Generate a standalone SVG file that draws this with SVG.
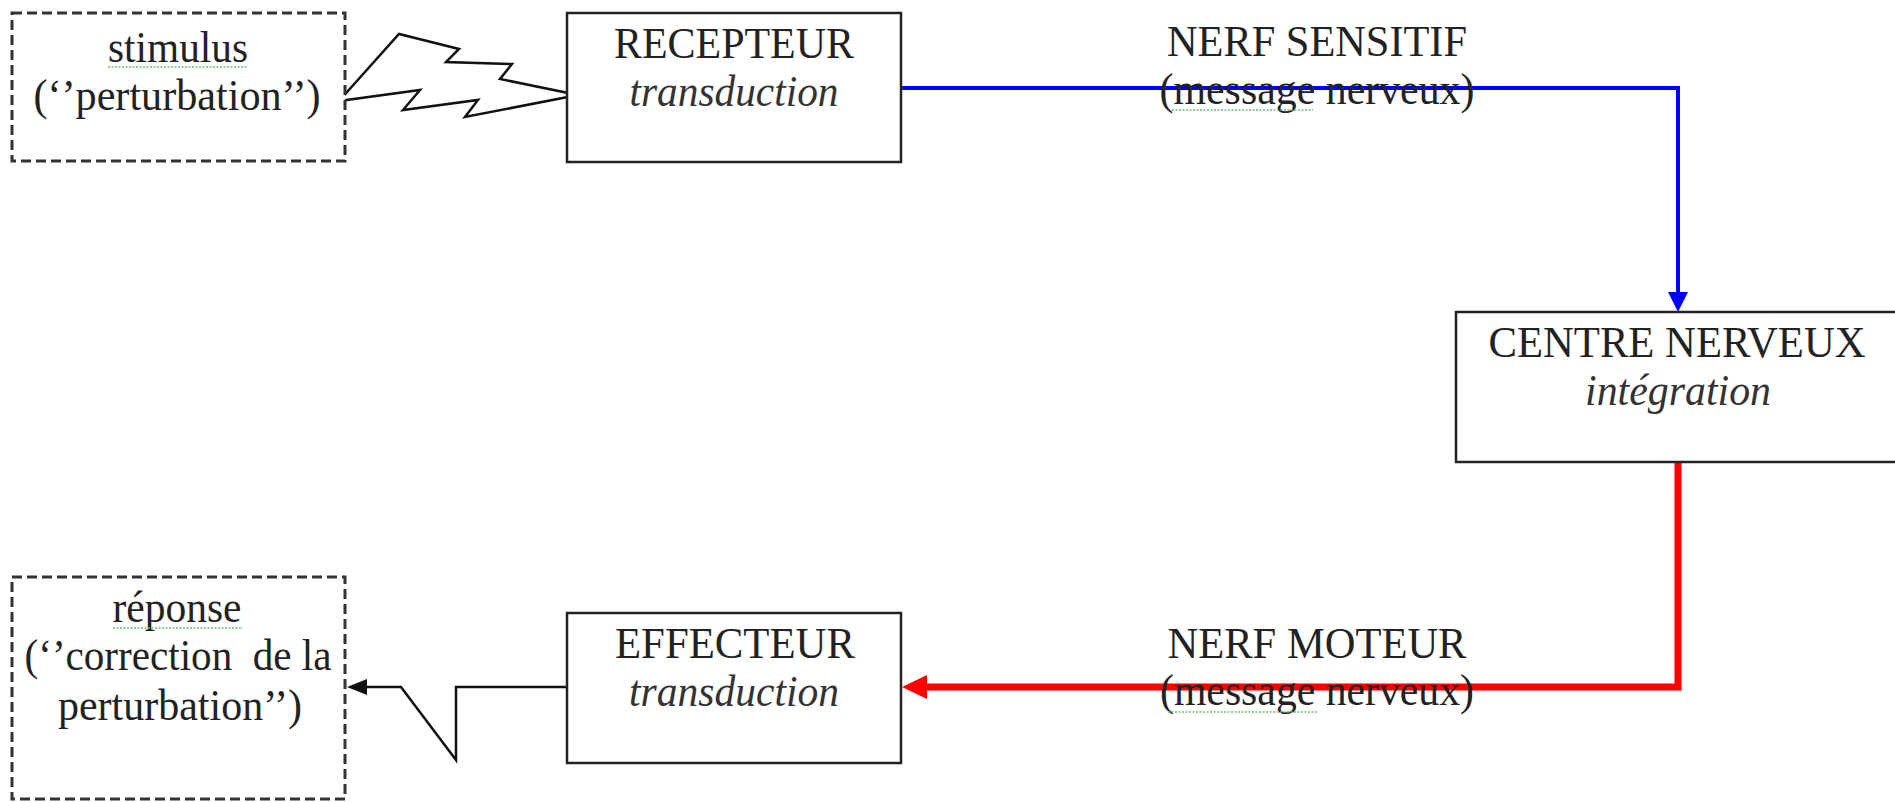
<svg xmlns="http://www.w3.org/2000/svg" width="1895" height="802" viewBox="0 0 1895 802">
<style>
text{font-family:"Liberation Serif","Times New Roman",serif;font-size:44px;fill:#222;text-anchor:middle}
.it{font-style:italic;fill:#333}
.box{fill:#fff;stroke:#222;stroke-width:2.5}
.dash{fill:#fff;stroke:#333;stroke-width:3;stroke-dasharray:10 5}
.sq{stroke:#6fbf6f;stroke-width:1.5;stroke-dasharray:2 1.5;fill:none}
</style>
<rect width="1895" height="802" fill="#fff"/>
<g id="connectors">
  <polygon id="bolt" points="339,101 399,34 459,49 446,62 512,64 500,79 578,95 465,117 478,100 403,110 420,90" fill="#fff" stroke="#111" stroke-width="2.5" stroke-linejoin="miter"/>
  <polyline points="901,88 1678,88 1678,294" fill="none" stroke="#0000ff" stroke-width="4"/>
  <polygon points="1668,292 1688,292 1678,312" fill="#0000ff"/>
  <polyline points="1678,462 1678,687 925,687" fill="none" stroke="#ff0000" stroke-width="7"/>
  <polygon points="927,675 927,699 902,687" fill="#ff0000"/>
  <polyline points="567,687 456,687 456,760 401,687 365,687" fill="none" stroke="#111" stroke-width="2.5"/>
  <polygon points="367,679 367,695 347,687" fill="#111"/>
</g>
<g id="stimulus">
  <rect class="dash" x="12" y="13" width="333" height="148"/>
  <text x="178" y="62" textLength="140" lengthAdjust="spacingAndGlyphs">stimulus</text>
  <line class="sq" x1="108" y1="67" x2="248" y2="67"/>
  <text x="177" y="110" textLength="287" lengthAdjust="spacingAndGlyphs">(‘’perturbation’’)</text>
</g>
<g id="recepteur">
  <rect class="box" x="567" y="13" width="334" height="149"/>
  <text x="734" y="58" textLength="240" lengthAdjust="spacingAndGlyphs">RECEPTEUR</text>
  <text class="it" x="734" y="106" textLength="209" lengthAdjust="spacingAndGlyphs">transduction</text>
</g>
<g id="nerf-sensitif">
  <text x="1317" y="56" textLength="300" lengthAdjust="spacingAndGlyphs">NERF SENSITIF</text>
  <text x="1317" y="104" textLength="315" lengthAdjust="spacingAndGlyphs">(message nerveux)</text>
  <line class="sq" x1="1172" y1="110" x2="1313" y2="110"/>
</g>
<g id="centre-nerveux">
  <rect class="box" x="1456" y="312" width="445" height="150"/>
  <text x="1677" y="357" textLength="377" lengthAdjust="spacingAndGlyphs">CENTRE NERVEUX</text>
  <text class="it" x="1678" y="405" textLength="186" lengthAdjust="spacingAndGlyphs">intégration</text>
</g>
<g id="nerf-moteur">
  <text x="1317" y="658" textLength="299" lengthAdjust="spacingAndGlyphs">NERF MOTEUR</text>
  <text x="1317" y="705" textLength="314" lengthAdjust="spacingAndGlyphs">(message nerveux)</text>
  <line class="sq" x1="1168" y1="712" x2="1317" y2="712"/>
</g>
<g id="effecteur">
  <rect class="box" x="567" y="613" width="334" height="150"/>
  <text x="735" y="658" textLength="240" lengthAdjust="spacingAndGlyphs">EFFECTEUR</text>
  <text class="it" x="734" y="706" textLength="210" lengthAdjust="spacingAndGlyphs">transduction</text>
</g>
<g id="reponse">
  <rect class="dash" x="12" y="577" width="333" height="222"/>
  <text x="177" y="622" textLength="129" lengthAdjust="spacingAndGlyphs">réponse</text>
  <line class="sq" x1="113" y1="628" x2="243" y2="628"/>
  <text x="178" y="670" textLength="307" lengthAdjust="spacingAndGlyphs" xml:space="preserve">(‘’correction  de la</text>
  <text x="180" y="720" textLength="244" lengthAdjust="spacingAndGlyphs">perturbation’’)</text>
</g>
</svg>
